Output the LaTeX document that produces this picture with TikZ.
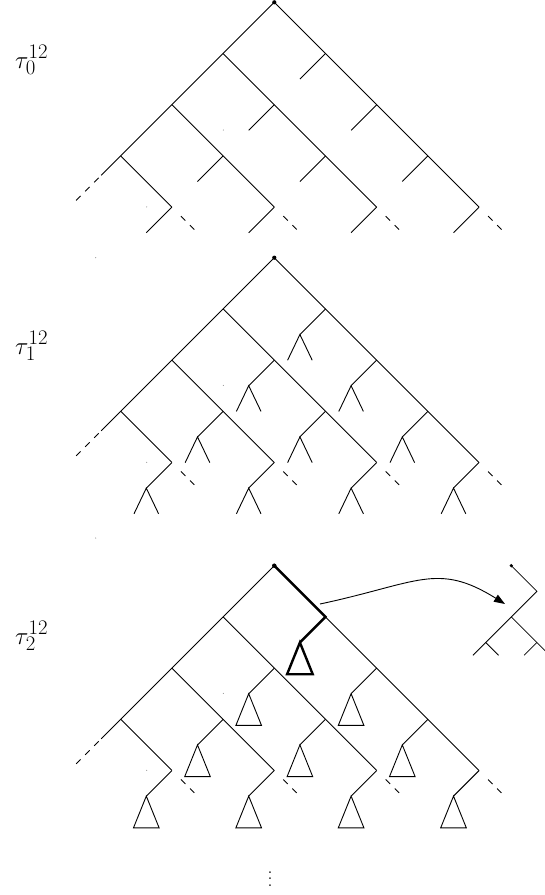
\documentclass[tikz,border=0pt]{standalone}
\usepackage{graphicx}
\usetikzlibrary{arrows.meta,calc}
\begin{document}
\begin{tikzpicture}[x=1pt,y=-1pt,
  treeline/.style={line width=0.9pt},
  boldline/.style={line width=2.4pt, line join=miter},
  dashline/.style={line width=0.9pt, dash pattern=on 6.3pt off 6.5pt},
  smallline/.style={line width=0.8pt},
  lbl/.style={font=\fontsize{30}{36}\selectfont, anchor=base west, inner sep=0pt},
  speck/.style={fill=black!45}]
\useasboundingbox (0,0) rectangle (545,895);
\clip (0,0) rectangle (545,895);
\def\s{51.2}
\def\h{25.6}
% ---------- grid coordinates of the three trees ----------
\foreach \t/\yo in {0/2.3, 1/257.7, 2/565.7} {
  \foreach \i in {0,...,4} {
    \pgfmathtruncatemacro\jmax{4-\i}
    \foreach \j in {0,...,\jmax} {
      \coordinate (n\t-\i-\j) at ({274.3+\s*(\i-\j)}, {\yo+\s*(\i+\j)});
    }
  }
  % left spine
  \draw[treeline] (n\t-0-0) -- (n\t-0-1) -- (n\t-0-2) -- (n\t-0-3) -- ++(-19.5,19.5);
  \draw[dashline] (n\t-0-3) ++(-22,22) -- ++(-22.6,22.6);
  % down-right lines with dashed continuation
  \foreach \j in {0,1,2,3} {
    \pgfmathtruncatemacro\im{4-\j}
    \draw[treeline] (n\t-0-\j) -- (n\t-\im-\j);
    \draw[dashline] (n\t-\im-\j) ++(9,9) -- ++(13.4,13.4);
  }
  % stubs
  \foreach \i in {1,...,4} {
    \pgfmathtruncatemacro\jmax{4-\i}
    \foreach \j in {0,...,\jmax} {
      \draw[treeline] (n\t-\i-\j) -- ++(-\h,\h) coordinate (s\t-\i-\j);
    }
  }
  % root dot
  \fill (n\t-0-0) circle (2.1);
  % specks
  \fill[speck] ($(n\t-0-0)+(-51,127.7)$) circle (0.55);
  \fill[speck] ($(n\t-0-0)+(-127.6,204.6)$) circle (0.55);
}
\fill[speck] (95.7,257.7) circle (0.55);
\fill[speck] (95.7,538) circle (0.55);
% ---------- tau_1: forks ----------
\foreach \i in {1,...,4} {
  \pgfmathtruncatemacro\jmax{4-\i}
  \foreach \j in {0,...,\jmax} {
    \draw[treeline] (s1-\i-\j) ++(-12.3,25.7) -- (s1-\i-\j) -- ++(12.3,25.7);
  }
}
% ---------- tau_2: triangles ----------
\foreach \i in {1,...,4} {
  \pgfmathtruncatemacro\jmax{4-\i}
  \foreach \j in {0,...,\jmax} {
    \ifnum\i=1 \ifnum\j=0 \else
      \draw[treeline, line join=miter] (s2-\i-\j) -- ++(-12.8,31.7) -- ++(25.6,0) -- cycle;
    \fi\else
      \draw[treeline, line join=miter] (s2-\i-\j) -- ++(-12.8,31.7) -- ++(25.6,0) -- cycle;
    \fi
  }
}
% bold path
\draw[boldline] (n2-0-0) -- (n2-1-0) -- (s2-1-0);
\draw[boldline] (s2-1-0) -- ++(-12.8,31.7) -- ++(25.6,0) -- cycle;
\fill (n2-0-0) circle (2.1);
% ---------- small tree ----------
\coordinate (sr) at (511.3,565.7);
\coordinate (sa) at (536.9,591.3);
\coordinate (sb) at (511.3,616.9);
\coordinate (sc) at (485.7,642.5);
\coordinate (sd) at (536.9,642.5);
\draw[smallline] (sr) -- (sa) -- (sb) -- (sc) -- ++(-12.8,12.8);
\draw[smallline] (sc) -- ++(12.8,12.8);
\draw[smallline] (sb) -- (sd) -- ++(12.8,12.8);
\draw[smallline] (sd) -- ++(-12.8,12.8);
\fill (sr) circle (1.8);
% ---------- arrow ----------
\coordinate (arrS) at (320,604);
\coordinate (arrE) at (505,604);
\draw[treeline, -{Triangle[length=11pt,width=8pt]}] (arrS) .. controls (417.8,583.2) and (437.2,561.6) .. (arrE);
% ---------- labels ----------
\node[lbl] (L0) at (15,68) {$\tau_0^{12}$};
\node[lbl] (L1) at (15,354) {$\tau_1^{12}$};
\node[lbl] (L2) at (15,644) {$\tau_2^{12}$};
\node[anchor=south, inner sep=0pt] (vd) at (270,886.5) {\scalebox{1.6}{$\vdots$}};
\end{tikzpicture}
\end{document}
